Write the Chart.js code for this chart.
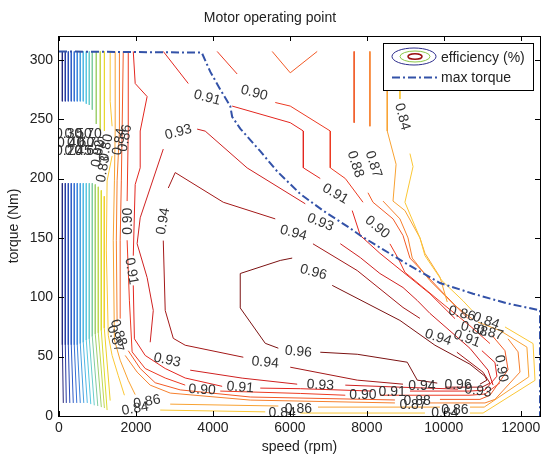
<!DOCTYPE html>
<html>
<head>
<meta charset="utf-8">
<title>Motor operating point</title>
<script src="https://cdn.jsdelivr.net/npm/chart.js@4.4.0/dist/chart.umd.min.js"></script>
<style>
  html, body { margin: 0; padding: 0; background: #fff; }
</style>
</head>
<body>
<canvas id="effChart" width="545" height="457"></canvas>
<script>
// axis ticks
const speedTicks = [0, 2000, 4000, 6000, 8000, 10000, 12000];
const torqueTicks = [0, 50, 100, 150, 200, 250, 300];

// max torque envelope (rpm, Nm)
const maxTorqueSpeed = [0, 3710, 3930, 4190, 4450, 4500, 4710, 5230, 5670, 6270, 6860, 7570, 7830, 9040, 9900, 10760, 11630, 12500, 12500];
const maxTorqueValue = [307, 306, 290, 275, 261, 252, 242, 223, 206, 187, 173, 158, 152, 128, 112, 103, 95, 89, 0];

// efficiency contour pieces, [rpm, Nm]; pieces are split where clabel put a label
const eff096 = [
  [[4710, 91], [4710, 120], [5750, 131], [6060, 133]],
  [[7100, 110], [8860, 80.5], [9770, 59.6], [10680, 43.6], [11070, 33.5], [11120, 30.2], [10940, 26.8]],
  [[9830, 27.7], [9310, 30.2], [9050, 45.3], [7750, 52], [6790, 53.7]],
  [[5700, 57.1], [5360, 61.2], [4710, 91]]
];
const eff094 = [
  [[2840, 192], [3020, 205], [4270, 180], [5620, 166]],
  [[6600, 145], [7750, 122.5], [8940, 91.4], [9380, 82.2]],
  [[10340, 53.7], [11020, 36.9], [11200, 27.7], [10990, 24.3], [10030, 24.3]],
  [[8940, 26.8], [7750, 30.2], [6010, 41.1]],
  [[4790, 49.5], [3280, 59.6], [2970, 65.4], [2760, 88.9], [2710, 147.7]]
];
const eff093 = [
  [[3590, 241.6], [3800, 239.9], [4890, 208.9], [6400, 178.7]],
  [[7310, 145.1], [7830, 133.4], [8340, 120], [8940, 108.2], [9310, 97.3], [9640, 86.4], [10680, 57], [11150, 38.6], [11280, 26]],
  [[10370, 22.6], [8860, 24.3], [7440, 26]],
  [[6190, 26.8], [4760, 31.9], [3410, 38.6]],
  [[2370, 62.1], [2450, 88.9], [2290, 116.6], [2030, 145.1], [2110, 166.9], [2710, 224.8]]
];
const eff091 = [
  [[2710, 307], [3360, 280]],
  [[4500, 261], [6010, 247], [6350, 240], [6350, 209], [6790, 200]],
  [[7620, 173], [7830, 152], [8340, 137], [9640, 103], [10290, 82]],
  [[10990, 55], [11330, 45], [11380, 33.5], [11070, 21.8], [10680, 21], [9120, 21]],
  [[8140, 21], [6270, 23], [5230, 23.5]],
  [[4240, 25], [3280, 32], [2760, 40], [2240, 51], [1960, 65], [1930, 110]],
  [[1930, 135], [1980, 195], [2110, 209], [2110, 240], [2290, 269], [1980, 280], [1930, 307]]
];
const eff090 = [
  [[4110, 307], [4630, 288]],
  [[5620, 264], [6010, 261], [7050, 240], [7050, 209], [7440, 200], [7900, 180]],
  [[8600, 145], [8810, 133], [8990, 121], [10030, 93], [10680, 76], [11200, 61]],
  [[11460, 28], [11070, 18.5], [10680, 17.5], [8340, 17.5]],
  [[7440, 17.5], [6270, 19], [4190, 21]],
  [[3280, 26], [2760, 32], [2240, 40], [1900, 54], [1830, 97], [1770, 148]],
  [[1770, 181], [1800, 240], [1800, 307]]
];
const eff088 = [
  [[5540, 307], [6010, 289], [6710, 307]],
  [[7670, 307], [7670, 247]],
  [[8030, 188], [8160, 180], [8680, 166], [8940, 152], [9120, 133], [10030, 102], [10630, 82]],
  [[11250, 68], [11590, 55], [11670, 39], [11200, 17.5], [10940, 14], [9900, 14]],
  [[8730, 13.5], [4970, 16], [3150, 22], [2500, 28], [2110, 40], [1800, 55]],
  [[1590, 82], [1590, 148], [1620, 198], [1640, 240], [1670, 307]]
];
const eff087 = [
  [[8080, 307], [8080, 244]],
  [[8420, 181], [8860, 166], [9070, 150], [9180, 133], [9640, 114], [10290, 93], [10730, 82]],
  [[11670, 65], [11930, 54], [11980, 37], [11330, 14], [11070, 11], [9640, 11]],
  [[8730, 11], [4970, 13.4], [2890, 19.3], [2370, 26], [2030, 37], [1720, 51]],
  [[1510, 79], [1490, 148], [1510, 198], [1570, 240], [1570, 307]]
];
const eff086 = [
  [[8530, 307], [8530, 240], [8760, 212], [8680, 181], [8990, 173], [9380, 150], [9510, 137], [9900, 117], [10090, 96]],
  [[10890, 79], [11460, 72], [12160, 58], [12210, 33], [11050, 7.5], [10680, 7.5]],
  [[9900, 7.5], [6730, 7.5]],
  [[5700, 8.4], [2890, 10]],
  [[1980, 18], [1800, 30], [1590, 47], [1440, 64], [1410, 148], [1440, 198], [1460, 240], [1460, 307]]
];
const eff084 = [
  [[8860, 307], [8860, 267]],
  [[9120, 221], [9200, 210], [8990, 180], [9380, 150], [9510, 135], [9950, 114], [10500, 97], [10730, 89]],
  [[11590, 75], [12320, 61], [12370, 30], [11020, 2.5], [10680, 2.5]],
  [[9510, 2.5], [6270, 2.5]],
  [[5360, 3.5], [2630, 5]],
  [[1700, 17.5], [1540, 34], [1380, 51], [1280, 68], [1230, 139], [1250, 198], [1380, 219]],
  [[1380, 244], [1330, 265], [1330, 307]]
];

// low efficiency contours near zero speed (rpm, Nm)
const bandTopTorque = 307;
const lowTopSpeed = [87, 164, 242, 319, 397, 475, 553, 631, 709, 787, 865, 969, 1073, 1180];
const lowTopEnd = [265, 265, 265, 265, 265, 265, 265, 265, 263, 262, 258, 246, 240, 240];
const lowBotSpeed = [87, 164, 242, 319, 397, 475, 553, 631, 709, 787, 865, 943, 1021, 1099, 1177];
const lowBotStart = [196, 196, 196, 196, 196, 196, 196, 196, 196, 196, 196, 195, 193, 190, 185];
const lowBotBend = [60, 60, 60, 60, 60, 60, 61, 62, 64, 65, 67, 69, 70, 72, 74];
const lowBotFootSpeed = [112, 190, 281, 371, 462, 553, 644, 735, 826, 917, 1008, 1100, 1180, 1250, 1330];
const lowBotFootTorque = [11, 11, 11, 11, 11, 11, 11, 11, 10, 9, 8.4, 7.5, 6.7, 5, 13];

// contour labels
const labelText = ["0.96", "0.96", "0.96", "0.94", "0.94", "0.94", "0.94", "0.94",
  "0.93", "0.93", "0.93", "0.93", "0.93", "0.91", "0.91", "0.91", "0.91", "0.91", "0.91",
  "0.90", "0.90", "0.90", "0.90", "0.90", "0.90", "0.88", "0.88", "0.88", "0.88",
  "0.87", "0.87", "0.87", "0.87", "0.86", "0.86", "0.86", "0.86", "0.86",
  "0.84", "0.84", "0.84", "0.84", "0.84", "0.84", "0.83", "0.80", "0.82",
  "0.30", "0.50", "0.70", "0.40", "0.60", "0.75", "0.20", "0.45", "0.65"];
const labelSpeed = [6610, 10370, 6220, 2710, 6090, 9850, 9430, 5360,
  3100, 6790, 10890, 6790, 2810, 3850, 7180, 10600, 8660, 4710, 1880,
  5070, 8270, 11490, 7900, 3720, 1800, 7700, 10790, 9310, 1540,
  8170, 11200, 9200, 1460, 10470, 10290, 6220, 2290, 1720,
  8920, 11100, 10030, 5800, 1980, 1570, 1150, 1230, 1020,
  250, 500, 760, 300, 560, 820, 250, 500, 760];
const labelTorque = [121, 26, 54, 164, 154, 66, 25, 45,
  239, 163, 21, 26, 47, 268, 187, 65, 20, 24, 122,
  272, 159, 40, 17.5, 22, 164, 212, 73, 12.5, 70,
  212, 70, 9, 65, 86, 5, 6, 12, 234,
  252, 80, 2, 2.5, 6, 231, 208, 226, 221,
  237, 237, 237, 230, 230, 230, 223, 223, 223];
const labelAngle = [15, 0, 5, -80, 15, 18, 0, 5,
  -15, 22, 8, 3, 12, 15, 30, 20, 0, 5, 80,
  15, 40, 80, 0, 3, -90, 72, 15, 0, 72,
  72, 15, 0, 72, 15, 0, 0, -10, -80,
  75, 20, 0, 0, -10, -80, -80, -80, -80,
  0, 0, 0, 0, 0, 0, 0, 0, 0];

const FONT = '"Liberation Sans", Arial, Helvetica, sans-serif';
const lowTopColors = ['#26287e', '#263aa0', '#2a4cb8', '#2e5cc8', '#3670d4', '#3c86dc', '#48a0e0', '#50b8e6',
  '#58c8e0', '#68cccc', '#80cca0', '#a0d070', '#c8d848', '#e8d830'];
const lowBotColors = ['#26287e', '#263aa0', '#2a4cb8', '#2e5cc8', '#3670d4', '#3c86dc', '#48a0e0', '#50b8e6',
  '#58c8e0', '#68cccc', '#80cca0', '#a0d070', '#c0d850', '#dcdc30', '#f0d028'];

function line(points, color, width, order) {
  return {
    data: points.map(p => ({ x: p[0], y: p[1] })),
    borderColor: color,
    borderWidth: width || 1,
    showLine: true,
    pointRadius: 0,
    fill: false,
    tension: 0,
    order: order === undefined ? 1 : order
  };
}

const datasets = [];
datasets.push(Object.assign(line(maxTorqueSpeed.map((s, i) => [s, maxTorqueValue[i]]), '#3352a8', 2, 0),
  { borderDash: [8, 3, 2, 3] }));

lowTopSpeed.forEach((s, i) => {
  datasets.push(line([[s, bandTopTorque], [s, lowTopEnd[i]]], lowTopColors[i]));
});
lowBotSpeed.forEach((s, i) => {
  datasets.push(line([[s, lowBotStart[i]], [s, lowBotBend[i]], [lowBotFootSpeed[i], lowBotFootTorque[i]]], lowBotColors[i]));
});

const levels = [
  [eff084, '#fbc735'], [eff086, '#f8a232'], [eff087, '#f6802e'], [eff088, '#f25a26'],
  [eff090, '#ec3a22'], [eff091, '#e3261f'], [eff093, '#cf2020'], [eff094, '#a31818'], [eff096, '#7b1212']
];
levels.forEach(([pieces, color]) => {
  pieces.forEach(p => datasets.push(line(p, color)));
});

const axesDecor = {
  id: 'axesDecor',
  afterDatasetsDraw(chart) {
    const { ctx, chartArea: a, scales } = chart;
    ctx.save();
    ctx.beginPath();
    ctx.rect(a.left, a.top, a.right - a.left, a.bottom - a.top);
    ctx.clip();
    ctx.font = '14px ' + FONT;
    ctx.fillStyle = '#333';
    ctx.textAlign = 'center';
    ctx.textBaseline = 'middle';
    labelText.forEach((t, i) => {
      const px = scales.x.getPixelForValue(labelSpeed[i]);
      const py = scales.y.getPixelForValue(labelTorque[i]);
      ctx.save();
      ctx.translate(px, py);
      ctx.rotate(labelAngle[i] * Math.PI / 180);
      ctx.fillText(t, 0, 0);
      ctx.restore();
    });
    ctx.restore();
  },
  afterDraw(chart) {
    const { ctx, chartArea: a, scales } = chart;
    ctx.save();
    // box and inward ticks
    ctx.strokeStyle = '#000';
    ctx.lineWidth = 1;
    ctx.strokeRect(a.left - 0.5, a.top + 0.5, a.right - a.left + 1, a.bottom - a.top);
    ctx.beginPath();
    scales.x.ticks.forEach(t => {
      const px = Math.round(scales.x.getPixelForValue(t.value)) + 0.5;
      ctx.moveTo(px, a.bottom); ctx.lineTo(px, a.bottom - 5);
      ctx.moveTo(px, a.top); ctx.lineTo(px, a.top + 5);
    });
    scales.y.ticks.forEach(t => {
      const py = Math.round(scales.y.getPixelForValue(t.value)) + 0.5;
      ctx.moveTo(a.left, py); ctx.lineTo(a.left + 5, py);
      ctx.moveTo(a.right, py); ctx.lineTo(a.right - 5, py);
    });
    ctx.stroke();

    // legend
    const lx = a.right - 157, ly = a.top + 7;
    ctx.fillStyle = '#fff';
    ctx.fillRect(lx, ly, 151, 48);
    ctx.strokeStyle = '#000';
    ctx.strokeRect(lx + 0.5, ly + 0.5, 150, 47);
    ctx.lineWidth = 1;
    ctx.beginPath();
    ctx.ellipse(lx + 31, ly + 13.5, 22, 8.5, 0, 0, Math.PI * 2);
    ctx.strokeStyle = '#2c2c8c';
    ctx.stroke();
    ctx.beginPath();
    ctx.ellipse(lx + 32, ly + 13.5, 15, 5.5, 0, 0, Math.PI * 2);
    ctx.strokeStyle = '#8cc84a';
    ctx.stroke();
    ctx.beginPath();
    ctx.ellipse(lx + 32, ly + 13.5, 7, 2.8, 0, 0, Math.PI * 2);
    ctx.strokeStyle = '#9a1010';
    ctx.lineWidth = 1.5;
    ctx.stroke();
    ctx.lineWidth = 2;
    ctx.strokeStyle = '#3352a8';
    ctx.setLineDash([8, 3, 2, 3]);
    ctx.beginPath();
    ctx.moveTo(lx + 9, ly + 34.5);
    ctx.lineTo(lx + 54, ly + 34.5);
    ctx.stroke();
    ctx.setLineDash([]);
    ctx.fillStyle = '#222';
    ctx.font = '14px ' + FONT;
    ctx.textAlign = 'left';
    ctx.textBaseline = 'middle';
    ctx.fillText('efficiency (%)', lx + 58, ly + 15);
    ctx.fillText('max torque', lx + 58, ly + 35);
    ctx.restore();
  }
};

const ctx = document.getElementById('effChart').getContext('2d');
const effChart = new Chart(ctx, {
  type: 'scatter',
  data: { datasets: datasets },
  options: {
    responsive: false,
    animation: false,
    layout: { padding: { left: 0, right: 5, top: 0, bottom: 0 } },
    plugins: {
      legend: { display: false },
      tooltip: { enabled: false },
      title: {
        display: true,
        text: 'Motor operating point',
        color: '#222',
        font: { family: FONT, size: 14, weight: 'normal' },
        padding: { top: 10, bottom: 9.2 }
      }
    },
    scales: {
      x: {
        type: 'linear',
        min: 0,
        max: 12500,
        afterFit: s => { s.height = 41; },
        afterBuildTicks: s => { s.ticks = speedTicks.map(v => ({ value: v })); },
        grid: { display: false, drawTicks: false },
        border: { display: false },
        ticks: { padding: 4, color: '#222', font: { family: FONT, size: 14 }, callback: v => String(v) },
        title: { display: true, text: 'speed (rpm)', color: '#222', font: { family: FONT, size: 14 }, padding: { top: 0, bottom: 1 } }
      },
      y: {
        type: 'linear',
        min: 0,
        max: 320,
        afterFit: s => { s.width = 59; },
        afterBuildTicks: s => { s.ticks = torqueTicks.map(v => ({ value: v })); },
        grid: { display: false, drawTicks: false },
        border: { display: false },
        ticks: { padding: 6, color: '#222', font: { family: FONT, size: 14 }, callback: v => String(v) },
        title: { display: true, text: 'torque (Nm)', color: '#222', font: { family: FONT, size: 14 }, padding: { top: 6, bottom: 0 } }
      }
    }
  },
  plugins: [axesDecor]
});
</script>
</body>
</html>
